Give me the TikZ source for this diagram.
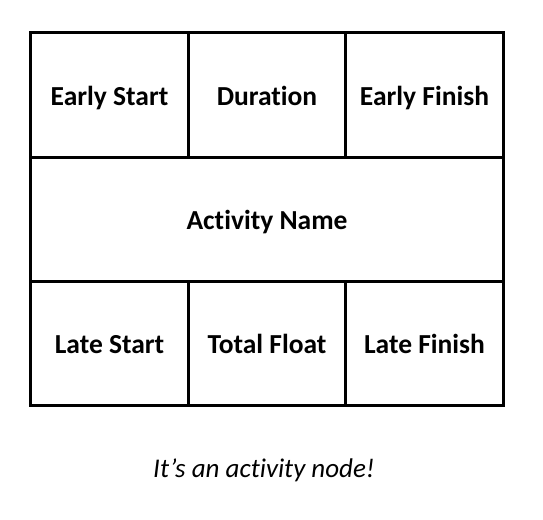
\documentclass[tikz,border=0pt]{standalone}
\usepackage{fontspec}
\setmainfont{Carlito}[Ligatures=NoCommon]
\begin{document}
\begin{tikzpicture}[x=1pt,y=-1pt,
  cell/.style={draw=black,line width=3pt,inner sep=0pt,minimum height=124pt,text height=21.7pt,text depth=0pt,font=\fontsize{27.5}{30}\selectfont\bfseries},
  small/.style={cell,minimum width=157.5pt},
  wide/.style={cell,minimum width=472.5pt},
  caption/.style={font=\fontsize{27}{30}\selectfont\itshape,text height=17.4pt,text depth=0pt,inner sep=0pt}]
\useasboundingbox (0,0) rectangle (543,519);
\fill[white] (0,0) rectangle (543,519);
\node[small] (es) at (109.5,95) {Early Start};
\node[small] (du) at (267,95) {Duration};
\node[small] (ef) at (424.5,95) {Early Finish};
\node[wide] (an) at (267,219) {Activity Name};
\node[small] (ls) at (109.5,343) {Late Start};
\node[small] (tf) at (267,343) {Total Float};
\node[small] (lf) at (424.5,343) {Late Finish};
\node[caption] (cap) at (264,469) {It’s an activity node!};
\end{tikzpicture}
\end{document}
